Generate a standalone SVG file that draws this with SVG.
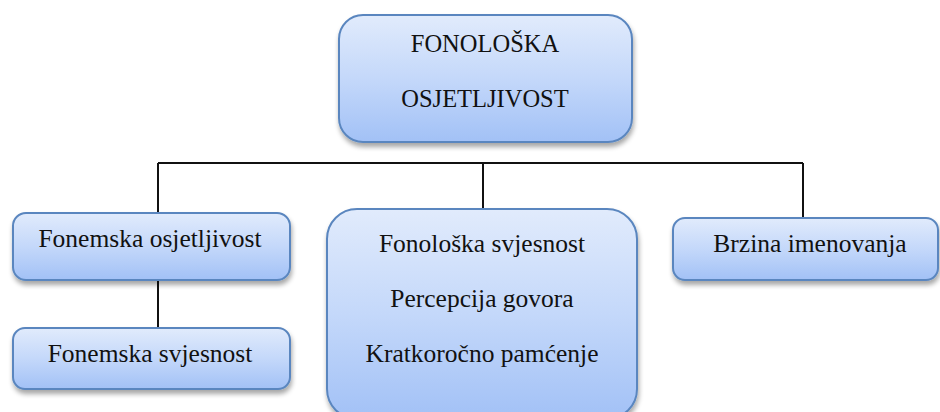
<svg xmlns="http://www.w3.org/2000/svg" width="940" height="412" viewBox="0 0 940 412">
<defs>
<linearGradient id="g" x1="0" y1="0" x2="0" y2="1">
<stop offset="0" stop-color="#e1ebfc"/>
<stop offset="0.5" stop-color="#c4d8fa"/>
<stop offset="1" stop-color="#a2c1f6"/>
</linearGradient>
<filter id="sh" x="-10%" y="-10%" width="120%" height="130%">
<feGaussianBlur in="SourceAlpha" stdDeviation="2.5"/>
<feOffset dx="1" dy="4" result="b"/>
<feComponentTransfer><feFuncA type="linear" slope="0.35"/></feComponentTransfer>
<feMerge><feMergeNode/><feMergeNode in="SourceGraphic"/></feMerge>
</filter>
</defs>
<style>
.box{fill:url(#g);stroke:#5a86bf;stroke-width:2;filter:url(#sh)}
.t{font-family:"Liberation Serif","Times New Roman",serif;font-size:25.5px;fill:#111;text-anchor:middle}
.top{font-size:24.5px}
.c{fill:none;stroke:#111;stroke-width:2}
</style>
<rect width="940" height="412" fill="#fff"/>
<g id="connectors">
<path class="c" d="M158 163 H803 M158 163 V213 M483 163 V215 M803 163 V218 M158 280 V328"/>
</g>
<g id="n-root">
<rect class="box" x="339" y="15" width="293" height="127" rx="24"/>
<text class="t top" x="485" y="52">FONOLOŠKA</text>
<text class="t top" x="485" y="107">OSJETLJIVOST</text>
</g>
<g id="n-fonemska-osjetljivost">
<rect class="box" x="13" y="213" width="277" height="67" rx="13"/>
<text class="t" x="150" y="247">Fonemska osjetljivost</text>
</g>
<g id="n-fonemska-svjesnost">
<rect class="box" x="13" y="328" width="277" height="61" rx="12"/>
<text class="t" x="150" y="362">Fonemska svjesnost</text>
</g>
<g id="n-center">
<rect class="box" x="327" y="209" width="310" height="210" rx="30"/>
<text class="t" x="482" y="252">Fonološka svjesnost</text>
<text class="t" x="482" y="307">Percepcija govora</text>
<text class="t" x="482" y="362">Kratkoročno pamćenje</text>
</g>
<g id="n-brzina">
<rect class="box" x="673" y="218" width="265" height="62" rx="12"/>
<text class="t" x="810" y="252">Brzina imenovanja</text>
</g>
</svg>
